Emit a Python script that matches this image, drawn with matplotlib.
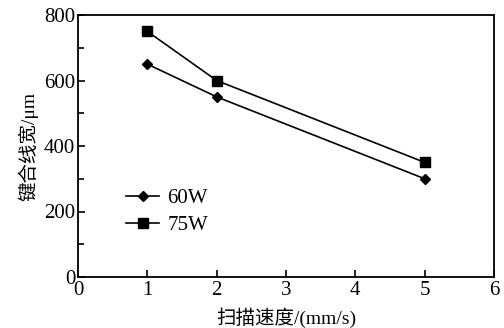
import numpy as np
import matplotlib
matplotlib.use('Agg')
from matplotlib import pyplot as plt
from matplotlib.ticker import MultipleLocator

plt.rcParams['font.family'] = ['Liberation Serif', 'Noto Sans CJK SC']

speed = [1, 2, 5]
width_60w = [650, 550, 300]
width_75w = [750, 600, 350]
labels = ['60W', '75W']

fig = plt.figure(figsize=(5.04, 3.28), dpi=100)
ax = fig.add_axes([78 / 504, 1 - 277 / 328, (494 - 78) / 504, (277 - 15) / 328])

ax.plot(speed, width_60w, color='black', marker='D', markersize=5.5, lw=1.2, label=labels[0])
ax.plot(speed, width_75w, color='black', marker='s', markersize=7, lw=1.2, label=labels[1])

ax.set_xlim(0, 6)
ax.set_ylim(0, 800)
ax.xaxis.set_major_locator(MultipleLocator(1))
ax.yaxis.set_major_locator(MultipleLocator(200))
ax.yaxis.set_minor_locator(MultipleLocator(100))
ax.tick_params(direction='in', which='both', labelsize=15, width=1.2)
ax.tick_params(which='major', length=5)
ax.tick_params(which='minor', length=4)
ax.tick_params(axis='x', pad=3)
ax.tick_params(axis='y', pad=2)
for s in ax.spines.values():
    s.set_linewidth(1.3)

ax.set_xlabel('扫描速度/(mm/s)', fontsize=14, labelpad=5)
ax.set_ylabel('键合线宽/μm', fontsize=14, labelpad=4)

ax.legend(loc='lower left', bbox_to_anchor=(0.08, 0.105), frameon=False, fontsize=15,
          handlelength=1.6, handletextpad=0.4, labelspacing=0.35, borderpad=0.2)

fig.savefig('out.png', dpi=100)
